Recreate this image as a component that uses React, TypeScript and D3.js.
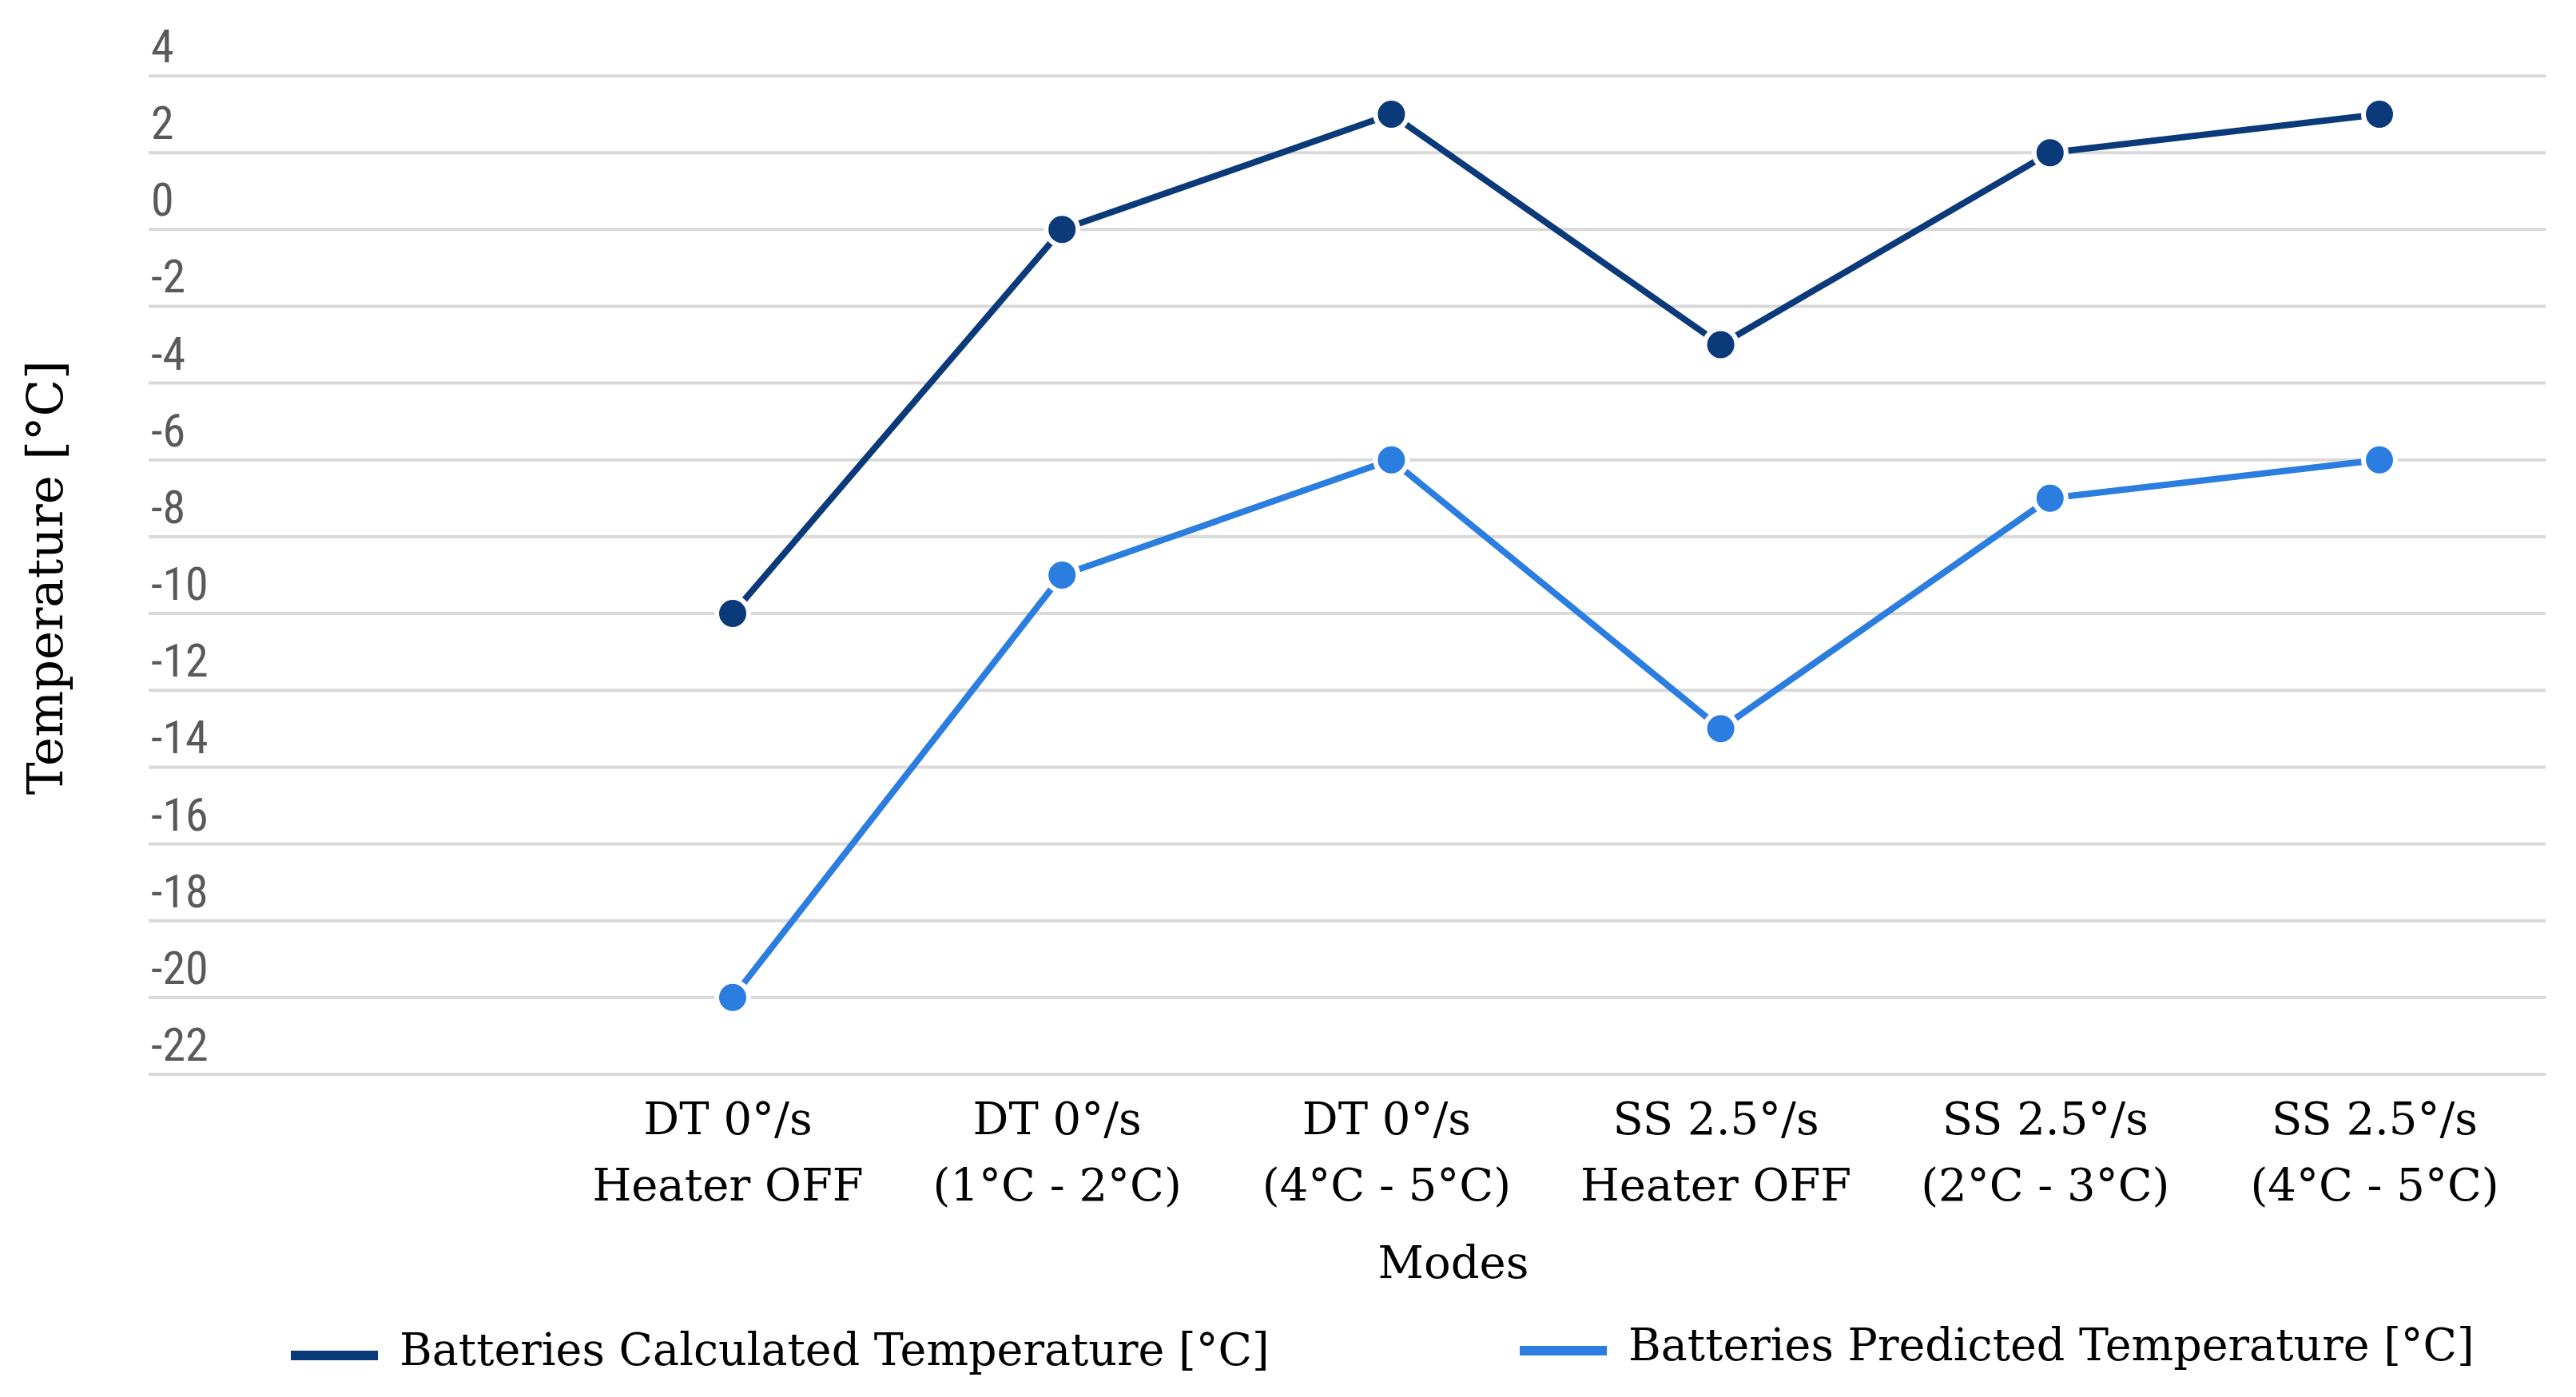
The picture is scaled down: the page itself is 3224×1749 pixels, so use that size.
import { useEffect, useRef } from 'react';
import * as d3 from 'd3';

const modes = [
  'DT 0°/s|Heater OFF',
  'DT 0°/s|(1°C - 2°C)',
  'DT 0°/s|(4°C - 5°C)',
  'SS 2.5°/s|Heater OFF',
  'SS 2.5°/s|(2°C - 3°C)',
  'SS 2.5°/s|(4°C - 5°C)',
];
const calculatedTemp = [-10, 0, 3, -3, 2, 3];
const predictedTemp = [-20, -9, -6, -13, -7, -6];
const yTicks = [4, 2, 0, -2, -4, -6, -8, -10, -12, -14, -16, -18, -20, -22];
const seriesNames = ['Batteries Calculated Temperature [°C]', 'Batteries Predicted Temperature [°C]'];
const seriesColors = ['#0b3a7a', '#2b7de0'];

const W = 3224;
const H = 1749;
const serif = "'DejaVu Serif', 'Liberation Serif', serif";
const narrow = "'Liberation Sans Narrow', 'Roboto Condensed', 'Liberation Sans', sans-serif";

export default function App() {
  const svgRef = useRef<SVGSVGElement>(null);

  useEffect(() => {
    if (!svgRef.current) return;
    document.body.style.margin = '0';

    const plot = { left: 186, right: 3186, top: 95, bottom: 1345 };

    const svg = d3.select(svgRef.current);
    svg.selectAll('*').remove();

    const x = d3.scalePoint<string>().domain(modes).range([917, 2978]);
    const y = d3.scaleLinear().domain([-22, 4]).range([plot.bottom, plot.top]);

    // grid lines
    svg
      .append('g')
      .selectAll('line')
      .data(yTicks)
      .enter()
      .append('line')
      .attr('x1', plot.left)
      .attr('x2', plot.right)
      .attr('y1', (d) => y(d))
      .attr('y2', (d) => y(d))
      .attr('stroke', '#d9d9d9')
      .attr('stroke-width', 4);

    // y tick labels sit above their grid line
    svg
      .append('g')
      .selectAll('text')
      .data(yTicks)
      .enter()
      .append('text')
      .attr('x', 189)
      .attr('y', (d) => y(d) - 17)
      .style('font-family', narrow)
      .style('font-size', '58px')
      .style('fill', '#595959')
      .text((d) => String(d));

    // series lines + markers
    [calculatedTemp, predictedTemp].forEach((values, si) => {
      const pts = values.map((v, i) => [x(modes[i]) as number, y(v)] as [number, number]);
      svg
        .append('path')
        .attr('d', d3.line()(pts))
        .attr('fill', 'none')
        .attr('stroke', seriesColors[si])
        .attr('stroke-width', 8)
        .attr('stroke-linejoin', 'round');
      svg
        .append('g')
        .selectAll('circle')
        .data(pts)
        .enter()
        .append('circle')
        .attr('cx', (d) => d[0])
        .attr('cy', (d) => d[1])
        .attr('r', 20)
        .attr('fill', seriesColors[si])
        .attr('stroke', '#fff')
        .attr('stroke-width', 6);
    });

    // category labels (two lines)
    const cat = svg
      .append('g')
      .selectAll('text')
      .data(modes)
      .enter()
      .append('text')
      .attr('text-anchor', 'middle')
      .style('font-family', serif)
      .style('font-size', '56px')
      .style('fill', '#000');
    cat
      .append('tspan')
      .attr('x', (d) => (x(d) as number) - 6)
      .attr('y', 1420)
      .text((d) => d.split('|')[0]);
    cat
      .append('tspan')
      .attr('x', (d) => (x(d) as number) - 6)
      .attr('y', 1503)
      .text((d) => d.split('|')[1]);

    // axis titles
    svg
      .append('text')
      .attr('x', 1819)
      .attr('y', 1600)
      .attr('text-anchor', 'middle')
      .style('font-family', serif)
      .style('font-size', '56px')
      .text('Modes');

    svg
      .append('text')
      .attr('transform', 'translate(78,723) rotate(-90)')
      .attr('text-anchor', 'middle')
      .style('font-family', serif)
      .style('font-size', '61px')
      .text('Temperature [°C]');

    // legend
    const legendX = [364, 1902];
    const legendY = [1697, 1691];
    seriesNames.forEach((name, i) => {
      svg
        .append('line')
        .attr('x1', legendX[i])
        .attr('x2', legendX[i] + 109)
        .attr('y1', legendY[i])
        .attr('y2', legendY[i])
        .attr('stroke', seriesColors[i])
        .attr('stroke-width', 12);
      svg
        .append('text')
        .attr('x', legendX[i] + 136)
        .attr('y', legendY[i] + 12)
        .style('font-family', serif)
        .style('font-size', '55.5px')
        .text(name);
    });
  }, []);

  return <svg ref={svgRef} width={W} height={H} style={{ position: 'absolute', left: 0, top: 0, background: '#fff' }} />;
}
